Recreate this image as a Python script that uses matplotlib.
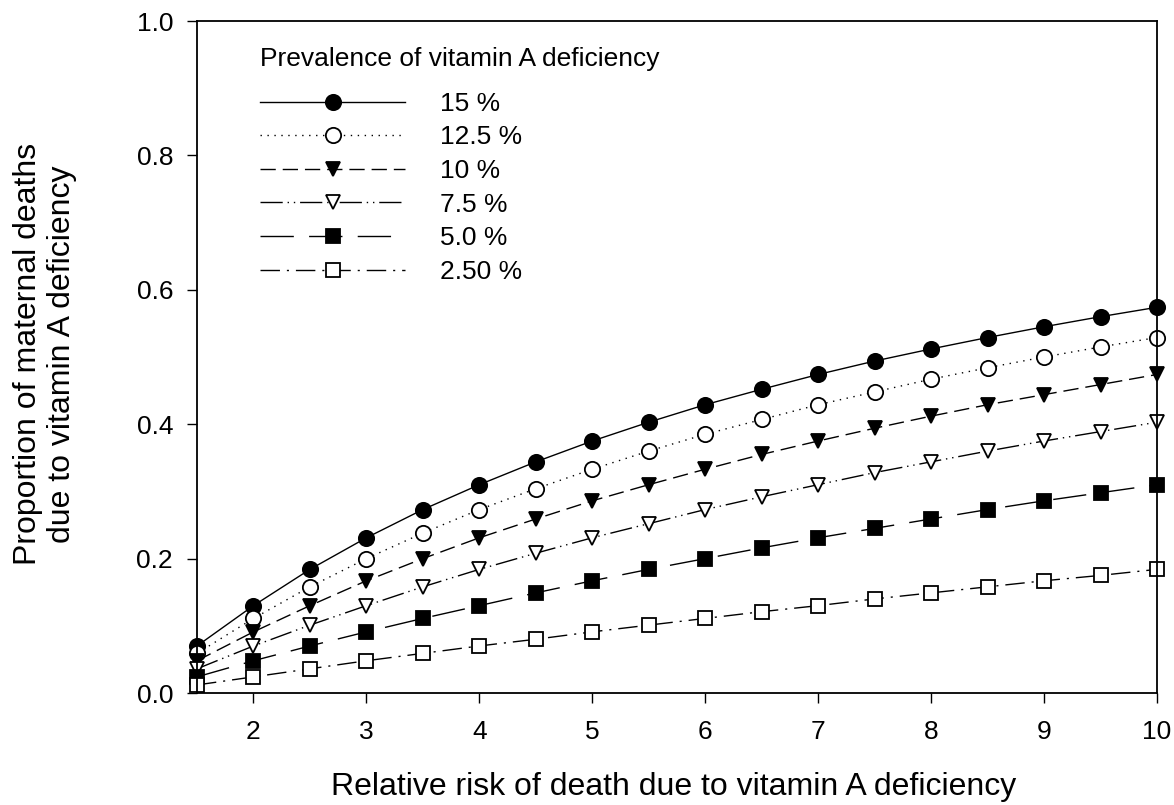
import matplotlib
matplotlib.use("Agg")
import matplotlib.pyplot as plt

plt.rcParams['font.family'] = ['Liberation Sans', 'DejaVu Sans']

# relative risk (x)
rr = [1.5, 2, 2.5, 3, 3.5, 4, 4.5, 5, 5.5, 6, 6.5, 7, 7.5, 8, 8.5, 9, 9.5, 10]

# proportion of deaths
p15 = [0.070, 0.130, 0.184, 0.231, 0.273, 0.310, 0.344, 0.375, 0.403, 0.429,
       0.452, 0.474, 0.494, 0.512, 0.529, 0.545, 0.560, 0.574]
p125 = [0.059, 0.111, 0.158, 0.200, 0.238, 0.273, 0.304, 0.333, 0.360, 0.385,
        0.407, 0.429, 0.448, 0.467, 0.484, 0.500, 0.515, 0.529]
p10 = [0.048, 0.091, 0.130, 0.167, 0.200, 0.231, 0.259, 0.286, 0.310, 0.333,
       0.355, 0.375, 0.394, 0.412, 0.429, 0.444, 0.459, 0.474]
p75 = [0.036, 0.070, 0.101, 0.130, 0.158, 0.184, 0.208, 0.231, 0.252, 0.273,
       0.292, 0.310, 0.328, 0.344, 0.360, 0.375, 0.389, 0.403]
p5 = [0.024, 0.048, 0.070, 0.091, 0.111, 0.130, 0.149, 0.167, 0.184, 0.200,
      0.216, 0.231, 0.245, 0.259, 0.273, 0.286, 0.298, 0.310]
p25 = [0.012, 0.024, 0.036, 0.048, 0.059, 0.070, 0.080, 0.091, 0.101, 0.111,
       0.121, 0.130, 0.140, 0.149, 0.158, 0.167, 0.175, 0.184]

labels = ['15 %', '12.5 %', '10 %', '7.5 %', '5.0 %', '2.50 %']

fig = plt.figure(figsize=(11.74, 8.05), dpi=100)
ax = fig.add_axes([197/1174, 1 - 693/805, (1157 - 197)/1174, (693 - 21)/805])

styles = [
    dict(ls='-', marker='o', mfc='black'),
    dict(ls=(0, (1, 4)), marker='o', mfc='white'),
    dict(ls=(0, (11, 5)), marker='v', mfc='black'),
    dict(ls=(0, (16, 3.5, 1, 3.5, 1, 3.5)), marker='v', mfc='white'),
    dict(ls=(0, (24, 11)), marker='s', mfc='black'),
    dict(ls=(0, (14, 5, 1.5, 5)), marker='s', mfc='white'),
]
series = [p15, p125, p10, p75, p5, p25]

for ys, st, lab in zip(series, styles, labels):
    ms = 11 if st['marker'] == 'o' else 10.5
    ax.plot(rr, ys, color='black', lw=1.0, linestyle=st['ls'], marker=st['marker'],
            mfc=st['mfc'], mec='black', mew=1.3, ms=ms, label=lab, clip_on=False)

ax.set_xlim(1.5, 10)
ax.set_ylim(0, 1.0)
ax.set_xticks(range(2, 11))
ax.set_yticks([0, 0.2, 0.4, 0.6, 0.8, 1.0])
ax.set_yticklabels(['0.0', '0.2', '0.4', '0.6', '0.8', '1.0'])
ax.tick_params(direction='out', length=7.2, width=1.0, labelsize=19, top=False, right=False)
ax.tick_params(axis='x', pad=12)
ax.tick_params(axis='y', pad=10)
for s in ax.spines.values():
    s.set_linewidth(1.3)

# axis titles placed by hand
fig.text(674/1174, 1 - 795/805, 'Relative risk of death due to vitamin A deficiency',
         fontsize=23, ha='center', va='baseline')
fig.text(45/1174, 1 - 354/805, 'Proportion of maternal deaths\ndue to vitamin A deficiency',
         fontsize=23, rotation=90, ha='center', va='center', multialignment='center',
         linespacing=1.15)

leg = ax.legend(title='Prevalence of vitamin A deficiency', loc='upper left',
                bbox_to_anchor=(260/1174, 1 - 47/805), bbox_transform=fig.transFigure,
                frameon=False, fontsize=19, title_fontsize=19, handlelength=5.5,
                handletextpad=1.33, labelspacing=0.365, numpoints=1, borderpad=0,
                borderaxespad=0, alignment='left')
leg._legend_box.sep = 15

fig.savefig('out.png', dpi=100)
